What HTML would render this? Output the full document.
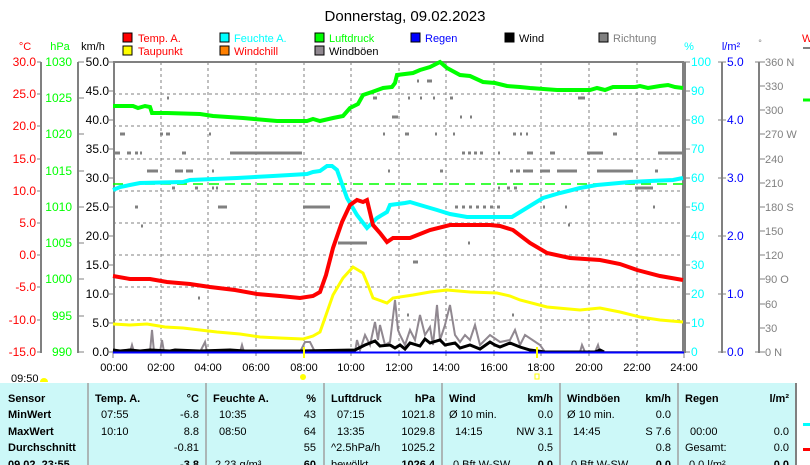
<!DOCTYPE html>
<html><head><meta charset="utf-8"><style>
html,body{margin:0;padding:0;background:#fff;width:810px;height:465px;overflow:hidden}
svg{display:block;font-family:"Liberation Sans",sans-serif}
</style></head><body>
<svg width="810" height="465" viewBox="0 0 810 465" xmlns="http://www.w3.org/2000/svg">
<text x="405" y="21" font-size="15" text-anchor="middle" fill="#000">Donnerstag, 09.02.2023</text>
<!-- legend -->
<g font-size="11">
<rect x="123" y="33" width="9" height="9" fill="#f00" stroke="#000"/><text x="138" y="42" fill="#f00">Temp. A.</text>
<rect x="220" y="33" width="9" height="9" fill="#0ff" stroke="#000"/><text x="234" y="42" fill="#0ff">Feuchte A.</text>
<rect x="315" y="33" width="9" height="9" fill="#0f0" stroke="#000"/><text x="329" y="42" fill="#0f0">Luftdruck</text>
<rect x="411" y="33" width="9" height="9" fill="#00f" stroke="#000"/><text x="425" y="42" fill="#00f">Regen</text>
<rect x="505" y="33" width="9" height="9" fill="#000" stroke="#000"/><text x="519" y="42" fill="#000">Wind</text>
<rect x="599" y="33" width="9" height="9" fill="#808080" stroke="#000"/><text x="613" y="42" fill="#808080">Richtung</text>
<rect x="123" y="46" width="9" height="9" fill="#ff0" stroke="#000"/><text x="138" y="55" fill="#f00">Taupunkt</text>
<rect x="220" y="46" width="9" height="9" fill="#ff8000" stroke="#000"/><text x="234" y="55" fill="#f00">Windchill</text>
<rect x="315" y="46" width="9" height="9" fill="#908890" stroke="#000"/><text x="329" y="55" fill="#000">Windböen</text>
</g>
<!-- axis titles -->
<g font-size="11">
<text x="25" y="50" text-anchor="middle" fill="#f00">°C</text>
<text x="60" y="50" text-anchor="middle" fill="#0f0">hPa</text>
<text x="93" y="50" text-anchor="middle" fill="#000">km/h</text>
<text x="689" y="50" text-anchor="middle" fill="#0ff">%</text>
<text x="731" y="50" text-anchor="middle" fill="#00f">l/m²</text>
<text x="760" y="46" text-anchor="middle" fill="#808080" font-size="9">°</text>
</g>
<!-- left axis lines -->
<g stroke="#808080" stroke-width="2">
<line x1="41" y1="62" x2="41" y2="353"/><line x1="78" y1="62" x2="78" y2="353"/>
<line x1="722" y1="62" x2="722" y2="353"/><line x1="759" y1="62" x2="759" y2="353"/>
</g>
<g font-size="12" fill="#f00" text-anchor="end">
<text x="36" y="66">30.0</text><text x="36" y="98">25.0</text><text x="36" y="130">20.0</text><text x="36" y="163">15.0</text><text x="36" y="195">10.0</text><text x="36" y="227">5.0</text><text x="36" y="259">0.0</text><text x="36" y="291">-5.0</text><text x="36" y="324">-10.0</text><text x="36" y="356">-15.0</text>
</g>
<g stroke="#808080" stroke-width="1">
<path d="M37 62H41M37 94H41M37 126H41M37 159H41M37 191H41M37 223H41M37 255H41M37 287H41M37 320H41M37 352H41"/>
<path d="M78 62H84M78 98H84M78 134H84M78 171H84M78 207H84M78 243H84M78 279H84M78 316H84M78 352H84"/>
<path d="M109 62H113M109 91H113M109 120H113M109 149H113M109 178H113M109 207H113M109 236H113M109 265H113M109 294H113M109 323H113M109 352H113"/>
<path d="M684 62H690M684 91H690M684 120H690M684 149H690M684 178H690M684 207H690M684 236H690M684 265H690M684 294H690M684 323H690M684 352H690"/>
<path d="M718 62H726M718 120H726M718 178H726M718 236H726M718 294H726M718 352H726"/>
<path d="M755 62H765M759 86H765M759 110H765M759 134H765M759 159H765M759 183H765M759 207H765M759 231H765M759 255H765M759 279H765M759 304H765M759 328H765M755 352H765"/>
</g>
<g font-size="12" fill="#0f0" text-anchor="end">
<text x="72" y="66">1030</text><text x="72" y="102">1025</text><text x="72" y="138">1020</text><text x="72" y="175">1015</text><text x="72" y="211">1010</text><text x="72" y="247">1005</text><text x="72" y="283">1000</text><text x="72" y="320">995</text><text x="72" y="356">990</text>
</g>
<g font-size="12" fill="#000" text-anchor="end">
<text x="109" y="66">50.0</text><text x="109" y="95">45.0</text><text x="109" y="124">40.0</text><text x="109" y="153">35.0</text><text x="109" y="182">30.0</text><text x="109" y="211">25.0</text><text x="109" y="240">20.0</text><text x="109" y="269">15.0</text><text x="109" y="298">10.0</text><text x="109" y="327">5.0</text><text x="109" y="356">0.0</text>
</g>
<g font-size="12" fill="#0ff">
<text x="691" y="66">100</text><text x="691" y="95">90</text><text x="691" y="124">80</text><text x="691" y="153">70</text><text x="691" y="182">60</text><text x="691" y="211">50</text><text x="691" y="240">40</text><text x="691" y="269">30</text><text x="691" y="298">20</text><text x="691" y="327">10</text><text x="691" y="356">0</text>
</g>
<g font-size="12" fill="#00f">
<text x="727" y="66">5.0</text><text x="727" y="124">4.0</text><text x="727" y="182">3.0</text><text x="727" y="240">2.0</text><text x="727" y="298">1.0</text><text x="727" y="356">0.0</text>
</g>
<g font-size="11" fill="#808080">
<text x="765" y="66">360 N</text><text x="765" y="90">330</text><text x="765" y="114">300</text><text x="765" y="138">270 W</text><text x="765" y="163">240</text><text x="765" y="187">210</text><text x="765" y="211">180 S</text><text x="765" y="235">150</text><text x="765" y="259">120</text><text x="765" y="283">90  O</text><text x="765" y="308">60</text><text x="765" y="332">30</text><text x="765" y="356">0    N</text>
</g>
<!-- grid -->
<g stroke="#808080" stroke-width="1" stroke-dasharray="3,3">
<path d="M113 94H684M113 126H684M113 159H684M113 191H684M113 223H684M113 255H684M113 287H684M113 320H684"/>
<path d="M161 62V352M208 62V352M256 62V352M304 62V352M351 62V352M399 62V352M446 62V352M494 62V352M541 62V352M589 62V352M637 62V352"/>
</g>
<line x1="113" y1="62" x2="684" y2="62" stroke="#808080" stroke-width="2"/>
<line x1="114" y1="62" x2="114" y2="353" stroke="#808080" stroke-width="2"/>
<line x1="684" y1="62" x2="684" y2="353" stroke="#808080" stroke-width="4"/>
<g stroke="#808080" stroke-width="1"><path d="M113 352V358M161 352V356M208 352V356M256 352V356M304 352V356M351 352V356M399 352V356M446 352V356M494 352V356M541 352V356M589 352V356M637 352V356M684 352V358"/></g>
<!-- direction marks -->
<g stroke="#808080" stroke-width="3">
<path d="M120 134h5M160 134h3M166 134h4M209 134h2M383 134h2M405 134h4M435 134h2M453 134h2M513 134h3M520 134h2M526 134h2M613 134h4
M113 153h7M127 153h4M135 153h3M140 153h2M182 153h4M230 153h72M462 153h3M468 153h3M474 153h3M480 153h3M498 153h2M527 153h6M550 153h5M587 153h16M658 153h26
M147 171h11M175 171h8M186 171h7M212 171h2M388 171h2M440 171h3M510 171h3M516 171h4M523 171h10M540 171h10M557 171h20M597 171h36M655 171h3
M172 188h3M195 188h3M212 188h2M216 188h2M498 188h2M507 188h3M514 188h3M635 188h18
M135 207h3M218 207h9M303 207h27M455 207h3M462 207h3M469 207h3M476 207h3M483 207h3M490 207h3M497 207h3M543 207h2M565 207h2M653 207h2
M338 243h29M468 243h2M568 225h2M413 262h5M167 98h2M373 98h4M408 98h2M420 98h2M433 98h2M450 98h3M578 98h7M393 117h4M392 117h6M460 117h2M470 117h2M427 81h5M417 81h2M407 315h2M512 315h2M141 226h2M198 298h2"/>
</g>
<line x1="113" y1="184" x2="684" y2="184" stroke="#0f0" stroke-width="1.5" stroke-dasharray="10,6"/>
<!-- gusts -->
<polyline fill="none" stroke="#908890" stroke-width="2" points="113,352 130,352 132,345 134,352 150,352 152,330 154,352 160,352 162,340 164,352 200,352 205,342 207,352 240,352 242,345 244,352 300,352 305,342 310,342 315,352 355,352 357,340 360,350 365,335 370,345 375,322 378,340 380,325 385,345 390,342 395,300 398,330 400,335 405,345 410,330 415,340 420,315 425,335 430,327 433,345 437,305 440,340 445,325 450,305 455,335 460,342 465,335 470,340 475,325 480,345 490,335 500,342 510,340 515,330 520,345 525,335 540,345 545,352 580,352 582,345 585,352 595,352 598,345 600,352 684,352"/>
<!-- wind -->
<polyline fill="none" stroke="#000" stroke-width="3" points="113,350 120,351 130,350 140,351 150,350 170,351 175,350 200,351 230,350 245,351 300,351 355,350 365,345 375,341 380,346 390,345 395,348 400,345 405,349 410,343 420,346 425,339 430,343 440,340 445,345 455,343 460,348 470,345 480,349 490,342 495,345 500,347 510,343 520,347 530,350 545,352 595,352 600,350 604,352"/>
<line x1="113" y1="352.5" x2="684" y2="352.5" stroke="#00f" stroke-width="2"/>
<!-- pressure -->
<polyline fill="none" stroke="#0f0" stroke-width="4" points="113,106 133,106 138,108 145,106 150,107 152,113 167,113 200,114 213,116 243,118 277,121 307,121 313,119 320,121 333,118 343,116 350,108 358,104 363,95 372,92 383,88 392,87 395,83 397,75 413,73 420,70 430,67 440,62 447,68 460,75 470,76 483,82 495,83 507,86 520,87 530,88 557,90 590,90 597,88 605,90 613,87 635,87 640,86 648,88 660,86 668,85 675,87 683,88"/>
<!-- humidity -->
<polyline fill="none" stroke="#0ff" stroke-width="4" points="113,190 120,187 140,183 183,182 190,180 237,178 273,176 307,174 313,172 320,171 327,166 332,166 337,170 347,198 357,215 367,228 377,218 387,212 390,205 405,203 410,202 420,205 437,210 450,214 467,217 512,217 525,209 543,198 560,193 580,188 597,185 630,182 650,181 673,180 683,178"/>
<!-- temp -->
<polyline fill="none" stroke="#f00" stroke-width="4" points="113,276 130,279 150,279 167,282 190,284 210,287 235,290 257,294 280,296 300,298 313,296 320,292 326,275 333,248 342,222 350,205 357,200 363,202 367,200 373,225 380,233 387,242 393,238 410,238 430,230 450,225 490,225 500,226 513,230 530,243 547,253 570,258 600,260 620,264 637,270 660,276 683,280"/>
<!-- dew -->
<polyline fill="none" stroke="#ff0" stroke-width="3" points="113,324 130,325 147,324 165,327 183,328 217,332 240,334 260,337 280,338 303,339 313,336 320,332 326,315 333,295 343,278 353,267 358,270 363,273 368,285 373,298 387,303 393,298 413,295 430,292 447,290 470,292 497,293 510,296 520,300 547,307 580,310 600,308 620,312 640,317 660,320 683,322"/>
<!-- x labels -->
<g font-size="11" fill="#000" text-anchor="middle">
<text x="114" y="371">00:00</text><text x="161" y="371">02:00</text><text x="208" y="371">04:00</text><text x="256" y="371">06:00</text><text x="304" y="371">08:00</text><text x="351" y="371">10:00</text><text x="399" y="371">12:00</text><text x="446" y="371">14:00</text><text x="494" y="371">16:00</text><text x="541" y="371">18:00</text><text x="589" y="371">20:00</text><text x="637" y="371">22:00</text><text x="684" y="371">24:00</text>
</g>
<text x="11" y="382" font-size="11">09:50</text>
<path d="M40 382a4 4 0 0 1 8 0z" fill="#ff0"/>
<line x1="304" y1="347" x2="304" y2="358" stroke="#ff0" stroke-width="2"/>
<circle cx="303" cy="377" r="3" fill="#ff0"/>
<line x1="537" y1="347" x2="537" y2="358" stroke="#ff0" stroke-width="2"/>
<rect x="535" y="374" width="4" height="5" fill="none" stroke="#ff0"/>
<!-- right edge marks -->
<text x="802" y="42" font-size="11" fill="#f00">W</text>
<line x1="803" y1="48" x2="810" y2="48" stroke="#808080" stroke-width="2"/>
<line x1="803" y1="100" x2="810" y2="100" stroke="#0f0" stroke-width="3"/>
<!-- table -->
<rect x="0" y="383" width="795" height="82" fill="#ccf8f8"/>
<g stroke="#a0a0a0" stroke-width="1.5"><path d="M88 383V465M206 383V465M324 383V465M442 383V465M560 383V465M678 383V465"/></g>
<line x1="796" y1="383" x2="796" y2="465" stroke="#808080" stroke-width="2"/>
<rect x="803" y="423" width="7" height="3" fill="#0ff"/><rect x="803" y="448" width="7" height="3" fill="#f00"/>
<g font-size="11" fill="#000">
<g font-weight="bold">
<text x="8" y="402">Sensor</text><text x="8" y="418">MinWert</text><text x="8" y="435">MaxWert</text><text x="8" y="451">Durchschnitt</text><text x="8" y="468">09.02. 23:55</text>
<text x="95" y="402">Temp. A.</text><text x="199" y="402" text-anchor="end">°C</text>
<text x="213" y="402">Feuchte A.</text><text x="316" y="402" text-anchor="end">%</text>
<text x="331" y="402">Luftdruck</text><text x="435" y="402" text-anchor="end">hPa</text>
<text x="449" y="402">Wind</text><text x="553" y="402" text-anchor="end">km/h</text>
<text x="567" y="402">Windböen</text><text x="671" y="402" text-anchor="end">km/h</text>
<text x="685" y="402">Regen</text><text x="789" y="402" text-anchor="end">l/m²</text>
<text x="199" y="468" text-anchor="end">-3.8</text><text x="316" y="468" text-anchor="end">60</text><text x="435" y="468" text-anchor="end">1026.4</text><text x="553" y="468" text-anchor="end">0.0</text><text x="671" y="468" text-anchor="end">0.0</text><text x="789" y="468" text-anchor="end">0.0</text>
</g>
<text x="101" y="418">07:55</text><text x="199" y="418" text-anchor="end">-6.8</text>
<text x="101" y="435">10:10</text><text x="199" y="435" text-anchor="end">8.8</text>
<text x="199" y="451" text-anchor="end">-0.81</text>
<text x="219" y="418">10:35</text><text x="316" y="418" text-anchor="end">43</text>
<text x="219" y="435">08:50</text><text x="316" y="435" text-anchor="end">64</text>
<text x="316" y="451" text-anchor="end">55</text><text x="215" y="468">2.23 g/m³</text>
<text x="337" y="418">07:15</text><text x="435" y="418" text-anchor="end">1021.8</text>
<text x="337" y="435">13:35</text><text x="435" y="435" text-anchor="end">1029.8</text>
<text x="331" y="451">^2.5hPa/h</text><text x="435" y="451" text-anchor="end">1025.2</text><text x="331" y="468">bewölkt</text>
<text x="449" y="418">Ø 10 min.</text><text x="553" y="418" text-anchor="end">0.0</text>
<text x="455" y="435">14:15</text><text x="553" y="435" text-anchor="end">NW 3.1</text>
<text x="553" y="451" text-anchor="end">0.5</text><text x="453" y="468">0 Bft W-SW</text>
<text x="567" y="418">Ø 10 min.</text><text x="671" y="418" text-anchor="end">0.0</text>
<text x="573" y="435">14:45</text><text x="671" y="435" text-anchor="end">S 7.6</text>
<text x="671" y="451" text-anchor="end">0.8</text><text x="571" y="468">0 Bft W-SW</text>
<text x="690" y="435">00:00</text><text x="789" y="435" text-anchor="end">0.0</text>
<text x="685" y="451">Gesamt:</text><text x="789" y="451" text-anchor="end">0.0</text><text x="689" y="468">0.0 l/m²</text>
</g>
</svg>
</body></html>
